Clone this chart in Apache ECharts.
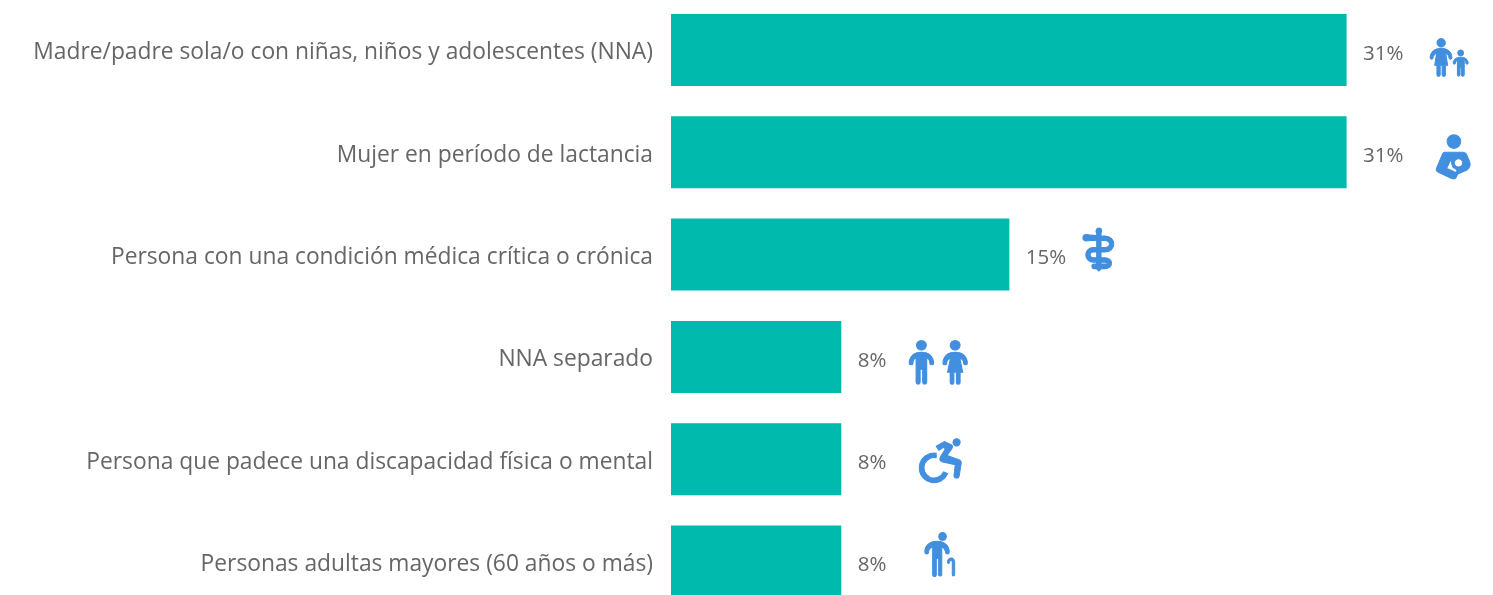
<!DOCTYPE html>
<html>
<head>
<meta charset="utf-8">
<style>
html, body { margin: 0; padding: 0; background: #fff; }
#chart { width: 1493px; height: 595px; }
</style>
<script src="https://cdn.jsdelivr.net/npm/echarts@6/dist/echarts.min.js"></script>
</head>
<body>
<div id="chart"></div>
<script>
const categories = [
    'Madre/padre sola/o con niñas, niños y adolescentes (NNA)',
    'Mujer en período de lactancia',
    'Persona con una condición médica crítica o crónica',
    'NNA separado',
    'Persona que padece una discapacidad física o mental',
    'Personas adultas mayores (60 años o más)'
]
const values = [30.75, 30.75, 15.4, 7.75, 7.75, 7.75]

const circle = (x, y, r, hole) => {
    const s = hole ? 0 : 1
    return `M${x - r} ${y}A${r} ${r} 0 1 ${s} ${x + r} ${y}A${r} ${r} 0 1 ${s} ${x - r} ${y}Z`
}

// hand traced pictograms, one per category
const iconPaths = [
    circle(304, 68, 13) + circle(364, 99, 9)
        + 'M270 114C270 97 283 85 304 85C325 85 337 97 337 114A4.5 4.5 0 0 1 328 114C328 108 324 103 318 100L324 137L317 137L317 166A4.5 4.5 0 0 1 307 166L307 137L301 137L301 166A4.5 4.5 0 0 1 291 166L291 137L284 137L290 100C284 103 279 108 279 114A4.5 4.5 0 0 1 270 114Z'
        + 'M341 130C341 119 350 112 364 112C378 112 387 119 387 130A3.5 3.5 0 0 1 380 130C380 126 378 123 375 122L375 166A4 4 0 0 1 366 166L366 143L362 143L362 166A4 4 0 0 1 354 166L354 122C351 123 348 126 348 130A3.5 3.5 0 0 1 341 130Z',
    circle(340, 362, 21)
        + 'M312 395L368 395C374 395 377 398 379 402L388 424C392 434 388 444 380 450L352 462L347 473C344 478 338 478 333 476L291 456C286 453 284 449 287 444L303 405C305 399 308 395 312 395Z'
        + circle(354, 428, 13, true)
        + 'M330 418L318 445L345 458L350 450L336 440Z',
    circle(297, 47, 9) + 'M290 47L304 47L304 166L297 173L290 166Z'
        + 'M268 60L316 63C333 64 344 75 344 88C344 102 332 113 316 113L280 113C274 113 270 117 270 122C270 127 274 131 280 131L316 131C328 131 337 139 337 148C337 158 328 165 316 165L282 165A7 7 0 0 1 282 151L316 151C320 151 323 150 323 148C323 146 320 145 316 145L280 145C266 145 256 135 256 122C256 109 266 99 280 99L316 99C324 99 330 94 330 88C330 82 324 78 316 77L268 76Z'
        + 'M258 58C268 58 275 62 275 68C275 74 268 78 258 78C251 78 247 74 247 68C247 62 251 58 258 58Z',
    circle(259, 60, 15) + circle(362, 60, 15)
        + 'M222 115C222 95 236 81 259 81C282 81 296 95 296 115A5.5 5.5 0 0 1 285 115C285 107 281 101 275 98L275 174A6 6 0 0 1 263 174L263 134L255 134L255 174A6 6 0 0 1 243 174L243 98C237 101 233 107 233 115A5.5 5.5 0 0 1 222 115Z'
        + 'M325 115C325 95 339 81 362 81C385 81 399 95 399 115A5.5 5.5 0 0 1 388 115C388 108 383 102 376 99L385 143L377 143L377 175A5.5 5.5 0 0 1 366 175L366 143L358 143L358 175A5.5 5.5 0 0 1 347 175L347 143L339 143L348 99C341 102 336 108 336 115A5.5 5.5 0 0 1 325 115Z',
    circle(367, 350, 11)
        + 'M305 383A45 45 0 1 0 340 445L327 440A31 31 0 1 1 305 397Z'
        + 'M305 362L330 348L352 358C356 362 355 366 352 370L338 390L372 402C380 404 382 408 381 414L375 452C373 462 358 460 359 450L363 418L325 410C316 408 314 400 318 394L332 371L329 364L313 374Z',
    circle(322, 632, 12)
        + 'M267 680C267 660 282 647 305 647C328 647 343 660 343 680A6 6 0 0 1 331 680C331 672 327 668 320 664L320 750A6 6 0 0 1 309 750L309 700L303 700L303 750A6 6 0 0 1 291 750L291 664C284 668 279 672 279 680A6 6 0 0 1 267 680Z'
        + 'M337 712C337 703 344 699 349 699C355 699 360 704 360 712L360 750A4 4 0 0 1 352 750L352 712C352 708 351 706 349 706C346 706 344 708 344 712A3.5 3.5 0 0 1 337 712Z'
]
const iconSizes = [[38, 38], [34, 44], [31, 43], [58, 44], [42, 44], [30, 44]]
const iconOffsets = [[102.5, 7.5], [106.5, 4.5], [89, -5], [97, 5.5], [99, 1.5], [98.5, -7]]

const myChart = echarts.init(document.getElementById('chart'), null, { renderer: 'canvas' })

const option = {
    animation: false,
    backgroundColor: '#fff',
    textStyle: { fontFamily: '"Open Sans"' },
    grid: { left: 671, top: -1.15, width: 769, height: 613.8, outerBoundsMode: 'none' },
    xAxis: { type: 'value', min: 0, max: 35, show: false },
    yAxis: {
        type: 'category',
        inverse: true,
        data: categories,
        axisLine: { show: false },
        axisTick: { show: false },
        axisLabel: {
            color: '#666666',
            fontSize: 22.8,
            margin: 18,
            verticalAlign: 'top',
            lineHeight: 6,
            fontFamily: '"Open Sans"'
        }
    },
    series: [
        {
            type: 'bar',
            data: values,
            barWidth: 72,
            itemStyle: { color: '#00BAAD' },
            label: {
                show: true,
                position: 'right',
                distance: 16.5,
                offset: [0, 4],
                color: '#666666',
                fontSize: 20.5,
                fontFamily: '"Open Sans"',
                formatter: (p) => Math.round(p.value) + '%'
            }
        },
        {
            type: 'scatter',
            clip: false,
            silent: true,
            data: values.map((v, i) => ({
                value: [v, categories[i]],
                symbol: 'path://' + iconPaths[i],
                symbolSize: iconSizes[i],
                symbolOffset: iconOffsets[i]
            })),
            itemStyle: { color: '#428EDF', opacity: 1, borderColor: '#428EDF', borderWidth: 1 }
        }
    ]
}

myChart.setOption(option)
</script>
</body>
</html>
